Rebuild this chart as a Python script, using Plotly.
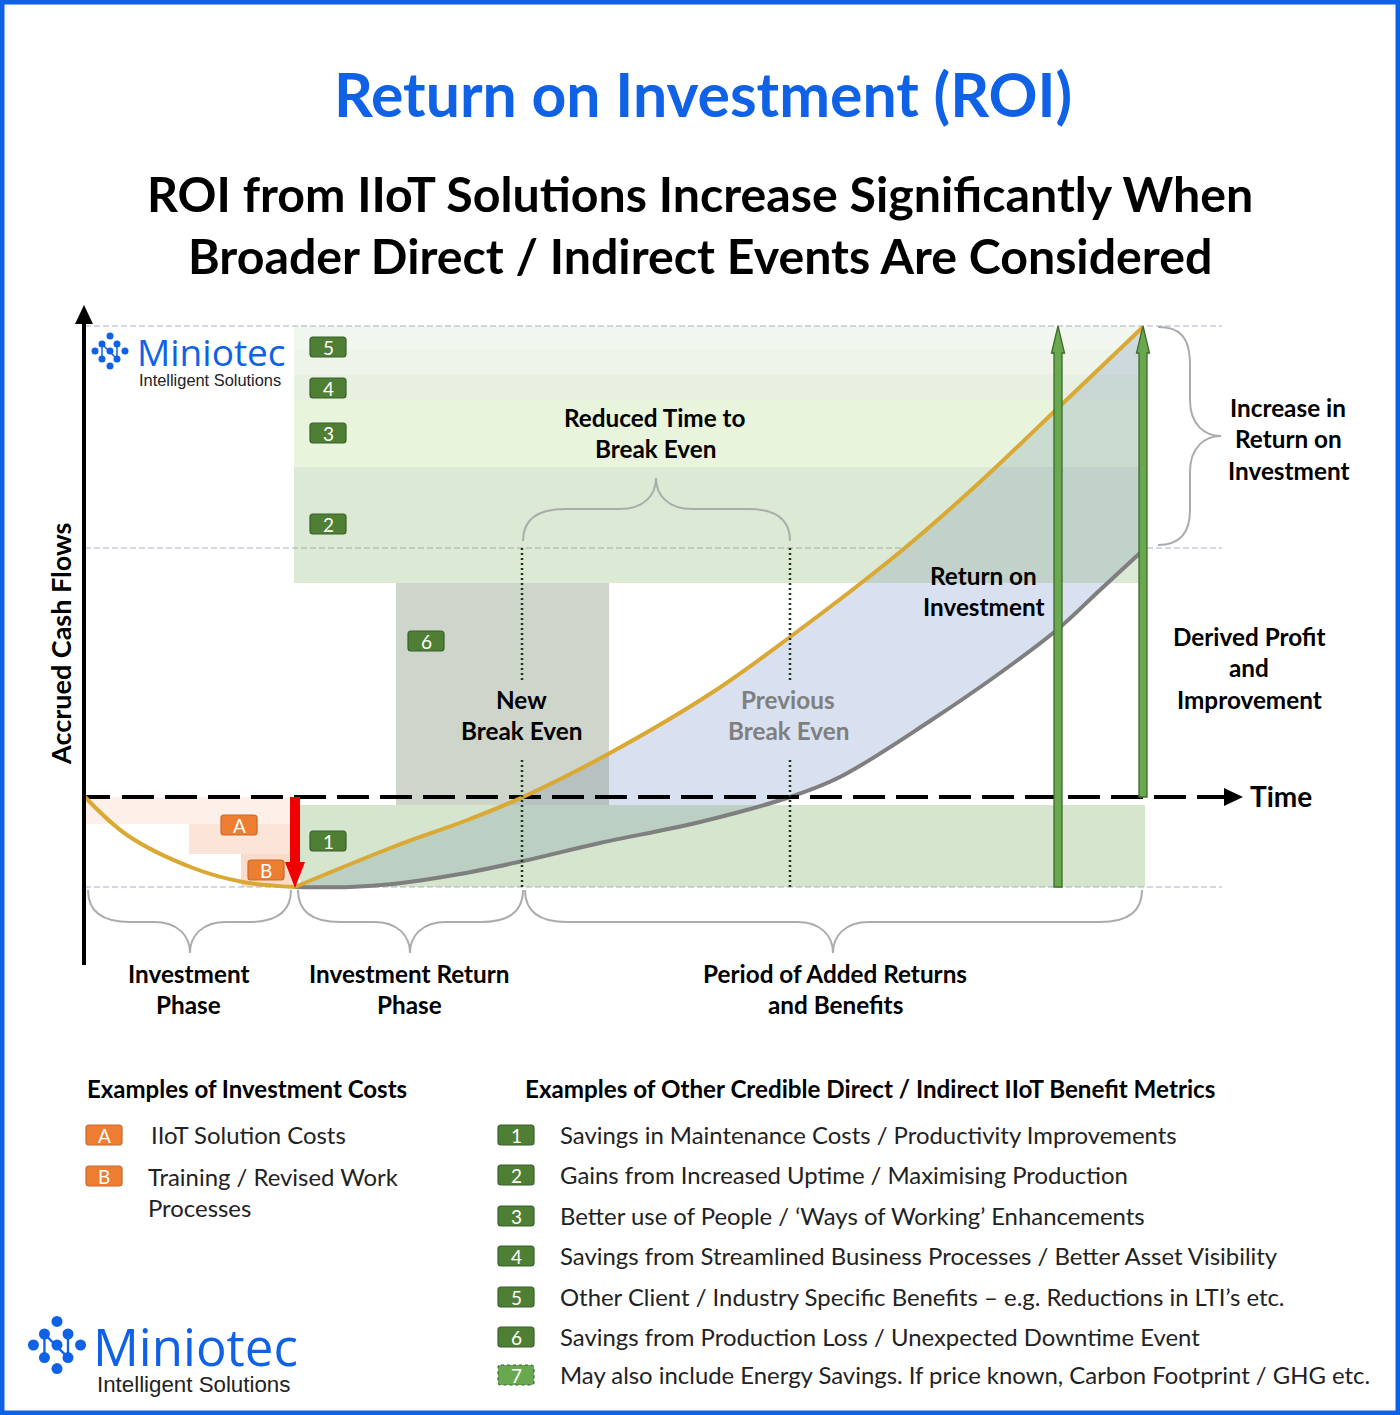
import plotly.graph_objects as go

W = 1400
H = 1415
ORIGIN_X = 85
ORIGIN_Y = 797

# values, time and cash in chart units (zero = break even line)
invest_time = [0, 42, 108, 158, 210]
invest_cash = [0, -38, -71, -85, -90]
new_time = [210, 308, 385, 438, 525, 628, 705, 815, 895, 973, 1058]
new_cash = [-90, -50, -22, 0, 44, 105, 160, 245, 315, 389, 470]
old_time = [210, 265, 308, 375, 438, 515, 615, 705, 755, 845, 915, 973, 1015, 1055]
old_cash = [-90, -90, -87, -77, -64, -46, -25, 0, 20, 76, 124, 168, 207, 244]

band_start = [209, 209, 209, 209, 209, 311, 215]
band_end = [1056, 1056, 1056, 1056, 1056, 524, 1060]
band_low = [447, 422, 397, 330, 214, -8, -90]
band_high = [471, 447, 422, 397, 330, 214, -8]
band_colors = ["rgba(120,170,90,0.10)", "rgba(120,170,90,0.13)", "rgba(120,170,90,0.18)", "rgba(150,205,90,0.22)",
               "rgba(120,170,90,0.26)", "rgba(120,140,110,0.365)", "rgba(120,170,90,0.30)"]

cost_start = [0, 104, 156]
cost_end = [210, 210, 210]
cost_low = [-27, -57, -90]
cost_high = [0, -27, -57]
cost_colors = ["#fdf0e8", "#fbe4d8", "#fbdcca"]

dashed_levels = [471, 249, -90]
profit_arrows = [973, 1058]
break_even_times = [437, 705]

chart_badges = ["5", "4", "3", "2", "1", "6", "A", "B"]
chart_badge_x = [328, 328, 328, 328, 328, 426, 239, 266]
chart_badge_y = [347, 388, 433, 524, 841, 641, 825, 870]

cost_names = ["A", "B"]
cost_y = [1135, 1176]
cost_text = ["IIoT Solution Costs", "Training / Revised Work", "Processes"]
cost_text_x = [151, 148, 148]
cost_text_y = [1135, 1177, 1208]

metric_ids = ["1", "2", "3", "4", "5", "6", "7"]
metric_y = [1135, 1175, 1216, 1256, 1297, 1337, 1375]
metric_text = [
    "Savings in Maintenance Costs / Productivity Improvements",
    "Gains from Increased Uptime / Maximising Production",
    "Better use of People / ‘Ways of Working’ Enhancements",
    "Savings from Streamlined Business Processes / Better Asset Visibility",
    "Other Client / Industry Specific Benefits – e.g. Reductions in LTI’s etc.",
    "Savings from Production Loss / Unexpected Downtime Event",
    "May also include Energy Savings. If price known, Carbon Footprint / GHG etc.",
]

bold_labels = [
    ("Reduced Time to", 655, 418), ("Break Even", 655, 449),
    ("Return on", 983, 576), ("Investment", 983, 607),
    ("New", 521, 700), ("Break Even", 521, 731),
    ("Increase in", 1288, 408), ("Return on", 1288, 439), ("Investment", 1288, 471),
    ("Derived Profit", 1249, 637), ("and", 1249, 668), ("Improvement", 1249, 700),
    ("Investment", 188, 974), ("Phase", 188, 1005),
    ("Investment Return", 409, 974), ("Phase", 409, 1005),
    ("Period of Added Returns", 835, 974), ("and Benefits", 835, 1005),
]

logo_x = [0, -8, 7, -15, 0, 15, -8, 7, 0]
logo_y = [-15, -7, -7, 0, 0, 0, 8, 8, 15]
logo_links = [(1, 6), (1, 7), (2, 7)]

BLUE = "#0f62e6"
FONT = "Lato"


def tx(px):
    return px - ORIGIN_X


def ty(py):
    return ORIGIN_Y - py


def poly(points):
    return "M" + " L".join(f"{tx(a)},{ty(b)}" for a, b in points) + " Z"


def h_brace(x0, x1, mid, edge, line, tip):
    # curly brace lying on its side
    r = 32
    s = 36
    return (f"M{tx(x0)},{ty(edge)} C{tx(x0)},{ty(line)} {tx(x0 + r)},{ty(line)} {tx(x0 + r + 10)},{ty(line)} "
            f"L{tx(mid - s)},{ty(line)} C{tx(mid - 12)},{ty(line)} {tx(mid)},{ty(line + (tip - line) * .45)} {tx(mid)},{ty(tip)} "
            f"C{tx(mid)},{ty(line + (tip - line) * .45)} {tx(mid + 12)},{ty(line)} {tx(mid + s)},{ty(line)} "
            f"L{tx(x1 - r - 10)},{ty(line)} C{tx(x1 - r)},{ty(line)} {tx(x1)},{ty(line)} {tx(x1)},{ty(edge)}")


def badge(cx, cy, fill, line, dash="solid", w=36, h=20):
    x0, x1, y0, y1 = tx(cx - w / 2), tx(cx + w / 2), ty(cy - h / 2), ty(cy + h / 2)
    r = 3
    path = (f"M{x0 + r},{y0} L{x1 - r},{y0} Q{x1},{y0} {x1},{y0 - r} L{x1},{y1 + r} Q{x1},{y1} {x1 - r},{y1} "
            f"L{x0 + r},{y1} Q{x0},{y1} {x0},{y1 + r} L{x0},{y0 - r} Q{x0},{y0} {x0 + r},{y0} Z")
    return dict(type="path", path=path, fillcolor=fill, line=dict(color=line, width=1.2, dash=dash), layer="above")


def note(text, px, py, size, color="black", bold=False, anchor="center", font=FONT, angle=0):
    label = f"<b>{text}</b>" if bold else text
    if anchor == "left":
        px -= 2
    return dict(x=tx(px), y=ty(py - 1), text=label, showarrow=False, xanchor=anchor, yanchor="middle", textangle=angle,
                font=dict(size=size, color=color, family=font))


shapes = []
annotations = []

for i in range(len(cost_colors)):
    shapes.append(dict(type="rect", x0=cost_start[i], x1=cost_end[i], y0=cost_low[i], y1=cost_high[i],
                       fillcolor=cost_colors[i], line_width=0, layer="below"))

for level in dashed_levels:
    shapes.append(dict(type="line", x0=0, x1=1137, y0=level, y1=level, layer="below",
                       line=dict(color="#a8b2c6", width=1.2, dash="6px,3px")))

for t in break_even_times:
    shapes.append(dict(type="line", x0=t, x1=t, y0=249, y1=ty(680), layer="above",
                       line=dict(color="#1a3a1a", width=2.5, dash="2px,3px")))
    shapes.append(dict(type="line", x0=t, x1=t, y0=ty(760), y1=-90, layer="above",
                       line=dict(color="#1a3a1a", width=2.5, dash="2px,3px")))

# braces
for x0, x1, mid, edge, line, tip in [(88, 291, 190, 890, 922, 953), (298, 523, 410, 890, 922, 953),
                                     (525, 1142, 833, 890, 922, 953), (523, 790, 656, 541, 509, 478)]:
    shapes.append(dict(type="path", path=h_brace(x0, x1, mid, edge, line, tip), layer="above",
                       line=dict(color="#a9adab", width=2)))
right_brace = (f"M{tx(1158)},{ty(327)} C{tx(1178)},{ty(327)} {tx(1190)},{ty(335)} {tx(1190)},{ty(365)} "
               f"L{tx(1190)},{ty(400)} C{tx(1190)},{ty(425)} {tx(1205)},{ty(436)} {tx(1221)},{ty(436)} "
               f"C{tx(1205)},{ty(436)} {tx(1190)},{ty(447)} {tx(1190)},{ty(472)} "
               f"L{tx(1190)},{ty(510)} C{tx(1190)},{ty(535)} {tx(1178)},{ty(545)} {tx(1158)},{ty(545)}")
shapes.append(dict(type="path", path=right_brace, layer="above", line=dict(color="#a9adab", width=2)))

# green profit arrows
for t, foot in zip(profit_arrows, [887, 797]):
    c = t + ORIGIN_X
    shapes.append(dict(type="path", layer="above", fillcolor="#6aa84f", line=dict(color="#3d6b2c", width=1.3),
                       path=poly([(c - 4, foot), (c - 4, 353), (c - 6.5, 353), (c, 326), (c + 6.5, 353), (c + 4, 353), (c + 4, foot)])))

# red arrow, axis arrow heads
shapes.append(dict(type="path", layer="above", fillcolor="#f00000", line_width=0,
                   path=poly([(290, 797), (300, 797), (300, 862), (305, 862), (295, 888), (285, 862), (290, 862)])))
shapes.append(dict(type="line", x0=-1, x1=-1, y0=ty(965), y1=ty(322), layer="above", line=dict(color="black", width=4)))
shapes.append(dict(type="path", layer="above", fillcolor="black", line_width=0,
                   path=poly([(75, 324), (84, 305), (93, 324)])))
shapes.append(dict(type="path", layer="above", fillcolor="black", line_width=0,
                   path=poly([(1224, 788), (1243, 797), (1224, 806)])))

# page border
shapes.append(dict(type="rect", xref="paper", yref="paper", x0=0, x1=1, y0=0, y1=1, fillcolor="rgba(0,0,0,0)",
                   line=dict(color=BLUE, width=9), layer="above"))

# badges
for name, cx, cy in zip(chart_badges, chart_badge_x, chart_badge_y):
    orange = name in cost_names
    shapes.append(badge(cx, cy, "#ed7d31" if orange else "#4f7f35", "#c9682a" if orange else "#38602a"))
    annotations.append(note(name, cx, cy + 1, 19, "white"))
for name, cy in zip(cost_names, cost_y):
    shapes.append(badge(104, cy, "#ed7d31", "#c9682a"))
    annotations.append(note(name, 104, cy + 1, 19, "white"))
for name, cy in zip(metric_ids, metric_y):
    last = name == "7"
    shapes.append(badge(516, cy, "#6aa84f" if last else "#4f7f35", "#38602a", "dot" if last else "solid"))
    annotations.append(note(name, 516, cy + 1, 19, "white"))

# texts
annotations.append(note("Return on Investment (ROI)", 703, 94, 60.7, BLUE, True))
annotations.append(note("ROI from IIoT Solutions Increase Significantly When", 700, 194, 48.3, "black", True))
annotations.append(note("Broader Direct / Indirect Events Are Considered", 700, 256, 48.3, "black", True))
annotations.append(note("Accrued Cash Flows", 60, 645, 27, "black", True, angle=-90))
annotations.append(note("Time", 1250, 797, 28, "black", True, "left"))
annotations.append(note("Previous", 788, 700, 24.3, "#7f7f7f", True))
annotations.append(note("Break Even", 788, 731, 24.3, "#7f7f7f", True))
for text, px, py in bold_labels:
    annotations.append(note(text, px, py, 24.3, "black", True))
annotations.append(note("Examples of Investment Costs", 87, 1089, 24, "black", True, "left"))
annotations.append(note("Examples of Other Credible Direct / Indirect IIoT Benefit Metrics", 525, 1089, 24.2, "black", True, "left"))
for text, px, py in zip(cost_text, cost_text_x, cost_text_y):
    annotations.append(note(text, px, py, 23.9, "#222222", False, "left"))
for text, py in zip(metric_text, metric_y):
    annotations.append(note(text, 560, py, 23.9, "#222222", False, "left"))

# logos
annotations.append(note("Miniotec", 137, 352, 37, BLUE, False, "left", "Open Sans"))
annotations.append(note("Intelligent Solutions", 139, 381, 16.4, "#222222", False, "left", "Liberation Sans"))
annotations.append(note("Miniotec", 93, 1347, 51, BLUE, False, "left", "Open Sans"))
annotations.append(note("Intelligent Solutions", 97, 1385, 22.3, "#222222", False, "left", "Liberation Sans"))

fig = go.Figure()

# area between the two return curves goes under the translucent bands
fig.add_trace(go.Scatter(x=new_time + old_time[::-1], y=new_cash + old_cash[::-1], fill="toself",
                         fillcolor="rgb(217,224,240)", mode="none", hoverinfo="skip"))
for i in range(len(band_colors)):
    fig.add_trace(go.Scatter(x=[band_start[i], band_end[i], band_end[i], band_start[i]],
                             y=[band_low[i], band_low[i], band_high[i], band_high[i]],
                             fill="toself", fillcolor=band_colors[i], mode="none", hoverinfo="skip"))

fig.add_trace(go.Scatter(x=old_time, y=old_cash, mode="lines", line=dict(color="#7f7f7f", width=4, shape="spline"),
                         hoverinfo="skip"))
fig.add_trace(go.Scatter(x=[0, 25, None, 37, 1140], y=[0, 0, None, 0, 0], mode="lines",
                         line=dict(color="black", width=4, dash="32px,11px"), hoverinfo="skip"))
fig.add_trace(go.Scatter(x=invest_time, y=invest_cash, mode="lines",
                         line=dict(color="#d9a934", width=4, shape="spline"), hoverinfo="skip"))
fig.add_trace(go.Scatter(x=new_time, y=new_cash, mode="lines",
                         line=dict(color="#d9a934", width=4, shape="spline"), hoverinfo="skip"))

for cx, cy, k, size in [(110, 351, 1, 7), (57, 1345, 1.57, 11)]:
    link_x = []
    link_y = []
    for a, b in logo_links:
        link_x += [tx(cx + logo_x[a] * k), tx(cx + logo_x[b] * k), None]
        link_y += [ty(cy + logo_y[a] * k), ty(cy + logo_y[b] * k), None]
    fig.add_trace(go.Scatter(x=link_x, y=link_y, mode="lines", line=dict(color=BLUE, width=1.5 * k), hoverinfo="skip"))
    fig.add_trace(go.Scatter(x=[tx(cx + v * k) for v in logo_x], y=[ty(cy + v * k) for v in logo_y], mode="markers",
                             marker=dict(color=BLUE, size=size), hoverinfo="skip"))

fig.update_layout(
    width=W, height=H, margin=dict(l=0, r=0, t=0, b=0), showlegend=False,
    paper_bgcolor="white", plot_bgcolor="white", shapes=shapes, annotations=annotations,
    xaxis=dict(range=[-ORIGIN_X, W - ORIGIN_X], visible=False, fixedrange=True),
    yaxis=dict(range=[ORIGIN_Y - H, ORIGIN_Y], visible=False, fixedrange=True),
)

fig.write_html("out.html", config=dict(displayModeBar=False),
               post_script="document.body.style.margin='0';document.body.style.overflow='hidden';")
